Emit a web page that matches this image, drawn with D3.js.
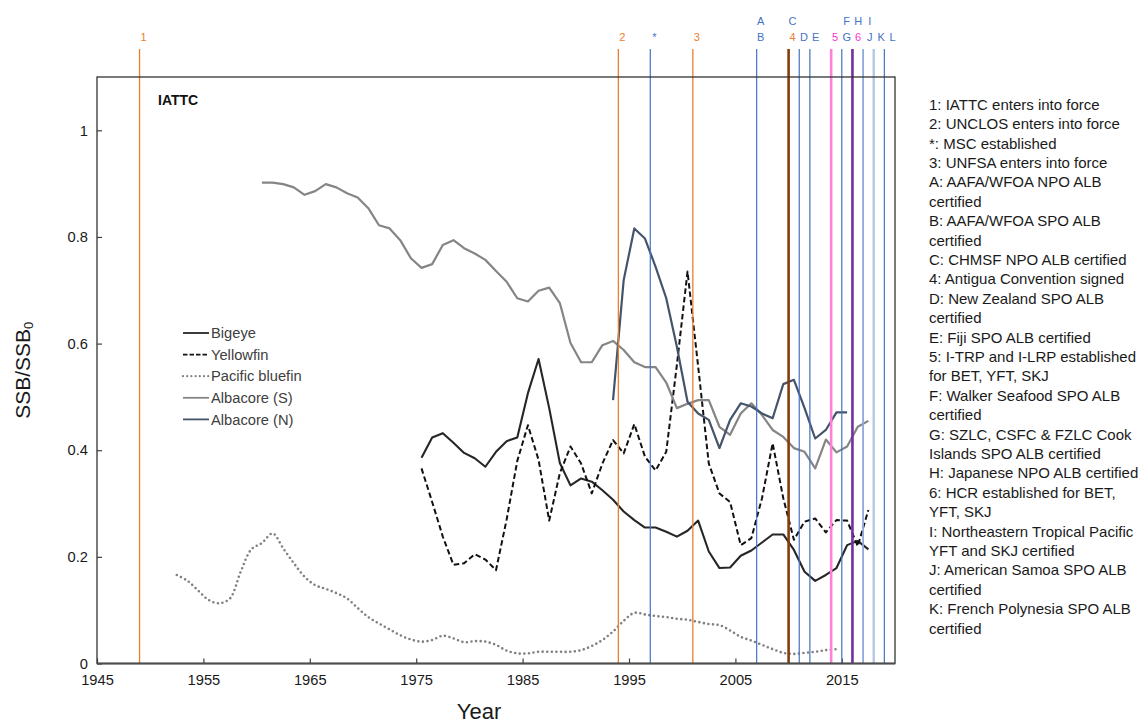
<!DOCTYPE html>
<html>
<head>
<meta charset="utf-8">
<script src="https://cdn.jsdelivr.net/npm/d3@7/dist/d3.min.js"></script>
<style>
  html, body { margin: 0; padding: 0; background: #fff; }
  svg { display: block; font-family: "Liberation Sans", Arial, sans-serif; }
</style>
</head>
<body>
<svg id="chart" width="1147" height="723"></svg>
<script>
// ---- Spawning stock biomass ratios (SSB/SSB0), one value per year ----
const bigeyeStart = 1975;
const bigeye = [0.386, 0.424, 0.432, 0.414, 0.395, 0.385, 0.369, 0.397, 0.417, 0.424,
  0.507, 0.571, 0.479, 0.376, 0.334, 0.347, 0.341, 0.325, 0.307, 0.285,
  0.269, 0.255, 0.255, 0.247, 0.238, 0.249, 0.268, 0.210, 0.179, 0.180,
  0.202, 0.212, 0.227, 0.242, 0.242, 0.213, 0.172, 0.155, 0.166, 0.179,
  0.222, 0.230, 0.214];

const yellowfinStart = 1975;
const yellowfin = [0.366, 0.303, 0.238, 0.185, 0.188, 0.205, 0.195, 0.175, 0.270, 0.380,
  0.447, 0.382, 0.268, 0.357, 0.407, 0.375, 0.319, 0.375, 0.419, 0.394,
  0.449, 0.388, 0.362, 0.397, 0.560, 0.735, 0.557, 0.375, 0.319, 0.303,
  0.222, 0.235, 0.310, 0.413, 0.310, 0.232, 0.266, 0.272, 0.246, 0.269,
  0.268, 0.220, 0.288];

const bluefinStart = 1952;
const bluefin = [0.166, 0.155, 0.137, 0.119, 0.113, 0.122, 0.172, 0.214, 0.226, 0.244,
  0.216, 0.188, 0.163, 0.147, 0.140, 0.132, 0.122, 0.104, 0.087, 0.075,
  0.064, 0.053, 0.045, 0.041, 0.044, 0.052, 0.047, 0.040, 0.042, 0.041,
  0.035, 0.024, 0.019, 0.019, 0.022, 0.022, 0.022, 0.022, 0.025, 0.033,
  0.044, 0.060, 0.080, 0.095, 0.092, 0.089, 0.087, 0.084, 0.082, 0.078,
  0.074, 0.072, 0.062, 0.050, 0.043, 0.035, 0.027, 0.020, 0.018, 0.020,
  0.022, 0.025, 0.027];

const albSouthStart = 1960;
const albSouth = [0.902, 0.902, 0.899, 0.893, 0.879, 0.886, 0.899, 0.893, 0.882, 0.874,
  0.854, 0.822, 0.816, 0.794, 0.760, 0.742, 0.749, 0.785, 0.794, 0.779,
  0.769, 0.757, 0.736, 0.716, 0.685, 0.679, 0.699, 0.705, 0.676, 0.601,
  0.565, 0.565, 0.597, 0.605, 0.588, 0.565, 0.556, 0.556, 0.527, 0.479,
  0.487, 0.494, 0.494, 0.444, 0.429, 0.469, 0.488, 0.466, 0.438, 0.425,
  0.404, 0.397, 0.366, 0.420, 0.396, 0.407, 0.444, 0.455];

const albNorthStart = 1993;
const albNorth = [0.494, 0.719, 0.816, 0.797, 0.744, 0.685, 0.594, 0.491, 0.469, 0.457,
  0.404, 0.457, 0.488, 0.482, 0.469, 0.460, 0.524, 0.532, 0.479, 0.422,
  0.438, 0.471, 0.471];

const seriesNames = ["Bigeye", "Yellowfin", "Pacific bluefin", "Albacore (S)", "Albacore (N)"];

// ---- Axis ticks ----
const xTicks = [1945, 1955, 1965, 1975, 1985, 1995, 2005, 2015];
const yTicks = [0, 0.2, 0.4, 0.6, 0.8, 1];
const yTickLabels = ["0", "0.2", "0.4", "0.6", "0.8", "1"];

// ---- Management / certification events (vertical markers) ----
const eventYears = [1949, 1994, 1997, 2001, 2007, 2010, 2011, 2012, 2014, 2015, 2016, 2017, 2018, 2019];
const eventLower = ["1", "2", "*", "3", "B", "4", "D", "E", "5", "G", "6", "J", "K", "L"];
const eventUpper = ["", "", "", "", "A", "C", "", "", "", "F", "H", "I", "", ""];

const noteLines = [
  "1: IATTC enters into force",
  "2: UNCLOS enters into force",
  "*: MSC established",
  "3: UNFSA enters into force",
  "A: AAFA/WFOA NPO ALB",
  "certified",
  "B: AAFA/WFOA SPO ALB",
  "certified",
  "C: CHMSF NPO ALB certified",
  "4: Antigua Convention signed",
  "D: New Zealand SPO ALB",
  "certified",
  "E: Fiji SPO ALB certified",
  "5: I-TRP and I-LRP established",
  "for BET, YFT, SKJ",
  "F: Walker Seafood SPO ALB",
  "certified",
  "G: SZLC, CSFC & FZLC Cook",
  "Islands SPO ALB certified",
  "H: Japanese NPO ALB certified",
  "6: HCR established for BET,",
  "YFT, SKJ",
  "I: Northeastern Tropical Pacific",
  "YFT and SKJ certified",
  "J: American Samoa SPO ALB",
  "certified",
  "K: French Polynesia SPO ALB",
  "certified"
];

// ---- Styling ----
const ORANGE = "#ED7D31", BLUE = "#4472C4", MAGENTA = "#FF33CC";
const seriesStyle = [
  { color: "#262626", width: 2.1, dash: null,     cap: "butt" },
  { color: "#111111", width: 2,   dash: "5.5,3",  cap: "butt" },
  { color: "#808080", width: 2.6, dash: "0,4.6",  cap: "round" },
  { color: "#858585", width: 2.2, dash: null,     cap: "butt" },
  { color: "#44546A", width: 2.2, dash: null,     cap: "butt" }
];
const eventLineStyle = {
  "1": { color: ORANGE, width: 1.3 },
  "2": { color: ORANGE, width: 1.3 },
  "*": { color: BLUE, width: 1.2 },
  "3": { color: ORANGE, width: 1.3 },
  "B": { color: BLUE, width: 1.2 },
  "4": { color: "#843C0C", width: 2.6 },
  "D": { color: BLUE, width: 1.2 },
  "E": { color: BLUE, width: 1.2 },
  "5": { color: "#FF7FDD", width: 2.6 },
  "G": { color: BLUE, width: 1.2 },
  "6": { color: "#7030A0", width: 2.6 },
  "J": { color: "#8FAADC", width: 1.8 },
  "K": { color: "#B4C7E7", width: 2.4 },
  "L": { color: BLUE, width: 1.2 }
};
const labelColor = t => ("1234".includes(t) ? ORANGE : "56".includes(t) ? MAGENTA : BLUE);

// ---- Layout ----
const plot = { left: 97, right: 895, top: 77, bottom: 663.5 };
const svg = d3.select("#chart");

const x = d3.scaleLinear().domain([1945, 2020]).range([plot.left, plot.right]);
const y = d3.scaleLinear().domain([0, 1.1]).range([plot.bottom, plot.top]);

// values are annual, placed at the middle of each year
const toPoints = (start, vals) => vals.map((v, i) => ({ yr: start + i + 0.5, v }));
const seriesData = [
  toPoints(bigeyeStart, bigeye),
  toPoints(yellowfinStart, yellowfin),
  toPoints(bluefinStart, bluefin),
  toPoints(albSouthStart, albSouth),
  toPoints(albNorthStart, albNorth)
];

// axes (ticks point inward)
const xAxis = d3.axisBottom(x).tickValues(xTicks).tickSize(-5).tickPadding(11).tickFormat(d3.format("d"));
const yAxis = d3.axisLeft(y).tickValues(yTicks).tickSize(-5).tickPadding(9)
  .tickFormat((d, i) => yTickLabels[i]);

const gx = svg.append("g").attr("transform", `translate(0,${plot.bottom})`).call(xAxis);
const gy = svg.append("g").attr("transform", `translate(${plot.left},0)`).call(yAxis);
[gx, gy].forEach(g => {
  g.select(".domain").remove();
  g.selectAll(".tick line").attr("stroke", "#404040").attr("stroke-width", 1.2);
  g.selectAll(".tick text").attr("fill", "#1a1a1a").style("font-size", "14.7px")
    .style("font-family", "'Liberation Sans', Arial, sans-serif");
});

// series lines
const lineLinear = d3.line().x(d => x(d.yr)).y(d => y(d.v));
const lineSmooth = d3.line().x(d => x(d.yr)).y(d => y(d.v)).curve(d3.curveCatmullRom.alpha(0.5));

seriesData.forEach((pts, i) => {
  const s = seriesStyle[i];
  svg.append("path")
    .datum(pts)
    .attr("d", i === 2 ? lineSmooth : lineLinear)
    .attr("fill", "none")
    .attr("stroke", s.color)
    .attr("stroke-width", s.width)
    .attr("stroke-linejoin", "round")
    .attr("stroke-linecap", s.cap)
    .attr("stroke-dasharray", s.dash);
});

// event markers on top of the series
const markerTop = 49;
svg.append("g").selectAll("line")
  .data(eventYears.map((yr, i) => ({ yr, key: eventLower[i] })))
  .join("line")
  .attr("x1", d => x(d.yr)).attr("x2", d => x(d.yr))
  .attr("y1", markerTop).attr("y2", plot.bottom)
  .attr("stroke", d => eventLineStyle[d.key].color)
  .attr("stroke-width", d => eventLineStyle[d.key].width);

// marker letters: keep a minimum spacing so crowded labels stay readable
let prevX = -Infinity;
const labelX = eventYears.map(yr => {
  const lx = Math.max(x(yr) + 4, prevX + 11.5);
  prevX = lx;
  return lx;
});
const labels = svg.append("g").style("font-size", "11px").attr("text-anchor", "middle");
eventLower.forEach((t, i) => {
  labels.append("text").attr("x", labelX[i]).attr("y", 41).attr("fill", labelColor(t)).text(t);
  if (eventUpper[i]) {
    labels.append("text").attr("x", labelX[i]).attr("y", 25).attr("fill", BLUE).text(eventUpper[i]);
  }
});

// plot frame
svg.append("rect")
  .attr("x", plot.left).attr("y", plot.top)
  .attr("width", plot.right - plot.left).attr("height", plot.bottom - plot.top)
  .attr("fill", "none").attr("stroke", "#333").attr("stroke-width", 1.3);
svg.append("line")
  .attr("x1", plot.left).attr("x2", plot.right)
  .attr("y1", plot.bottom).attr("y2", plot.bottom)
  .attr("stroke", "#4d4d4d").attr("stroke-width", 1.8);

// region tag
svg.append("text").attr("x", 158).attr("y", 104.5)
  .style("font-size", "14px").style("font-weight", "bold").attr("fill", "#111").text("IATTC");

// series legend
const leg = svg.append("g").attr("transform", "translate(183,333)");
seriesNames.forEach((name, i) => {
  const s = seriesStyle[i];
  const row = leg.append("g").attr("transform", `translate(0,${i * 21.6})`);
  row.append("line").attr("x1", 0).attr("x2", 26).attr("y1", 0).attr("y2", 0)
    .attr("stroke", s.color).attr("stroke-width", i === 2 ? 2.2 : 1.8)
    .attr("stroke-linecap", s.cap)
    .attr("stroke-dasharray", i === 1 ? "4.5,2" : i === 2 ? "0,4.2" : null);
  row.append("text").attr("x", 28).attr("dy", "0.35em")
    .style("font-size", "14.7px").attr("fill", "#404040").text(name);
});

// event notes
const notes = svg.append("g").attr("transform", "translate(929,104.5)")
  .style("font-size", "15px").attr("fill", "#1a1a1a");
noteLines.forEach((t, i) => {
  notes.append("text").attr("y", i * 19.4).attr("dy", "0.35em").text(t);
});

// axis titles
svg.append("text").attr("x", 479).attr("y", 719).attr("text-anchor", "middle")
  .style("font-size", "22px").attr("fill", "#1a1a1a").text("Year");

const yt = svg.append("text")
  .attr("transform", `translate(30,${(plot.top + plot.bottom) / 2}) rotate(-90)`)
  .attr("text-anchor", "middle").style("font-size", "21px").attr("fill", "#1a1a1a");
yt.append("tspan").text("SSB/SSB");
yt.append("tspan").attr("dy", "0.25em").style("font-size", "13px").text("0");
</script>
</body>
</html>
